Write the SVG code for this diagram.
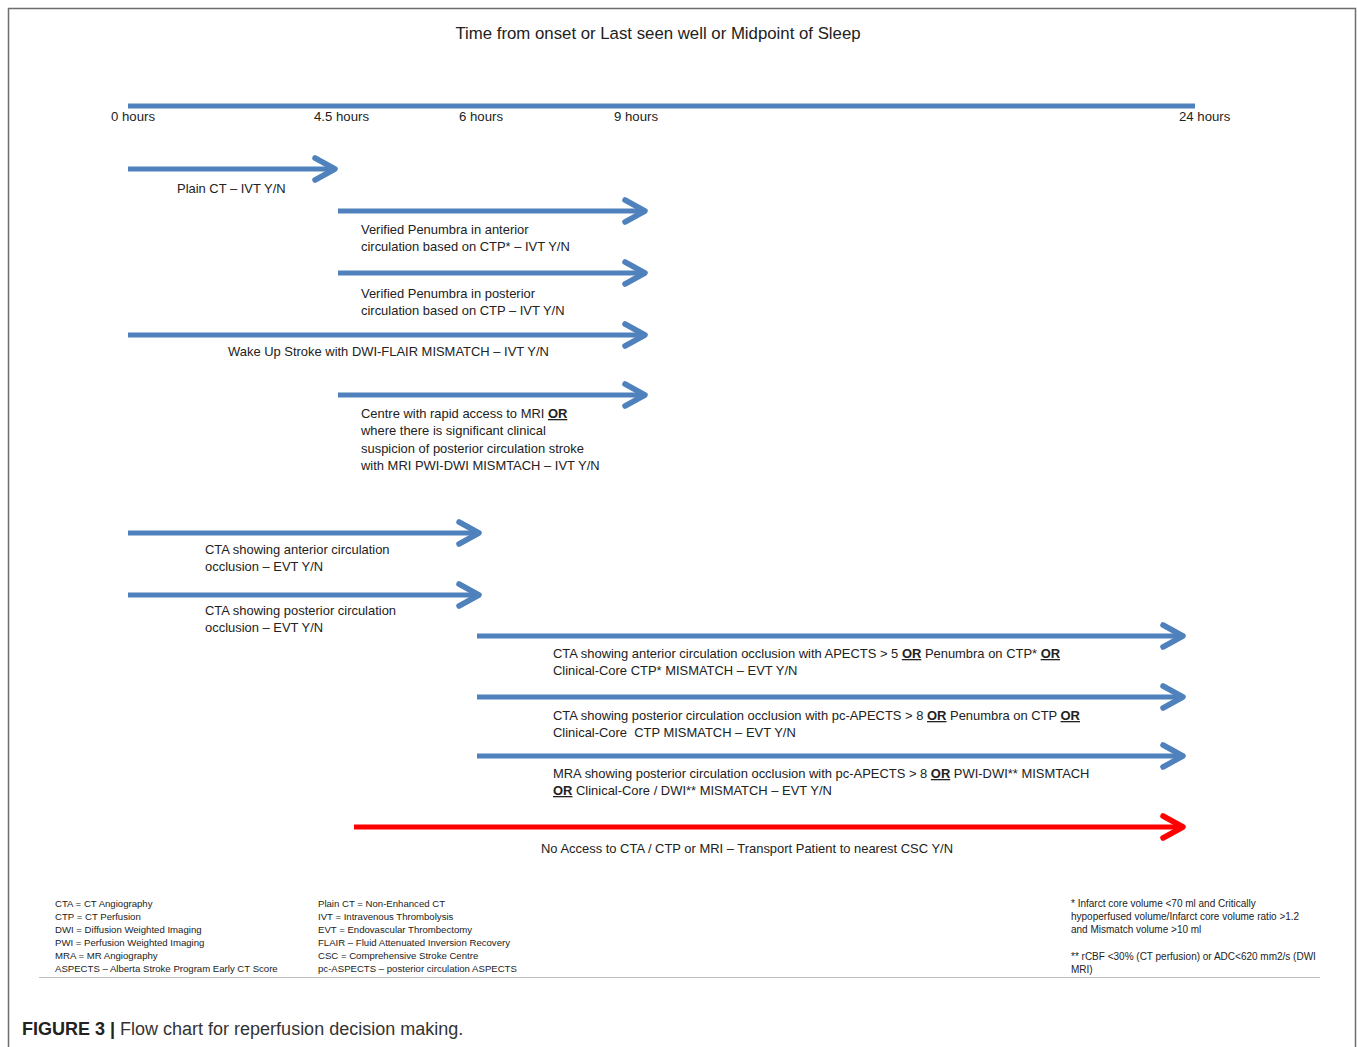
<svg xmlns="http://www.w3.org/2000/svg" width="1357" height="1047" viewBox="0 0 1357 1047">
<defs>
<style>
.t{font-family:"Liberation Sans",Arial,sans-serif;font-size:12.95px;fill:#222}
.h{font-family:"Liberation Sans",Arial,sans-serif;font-size:13.2px;fill:#222}
.f{font-family:"Liberation Sans",Arial,sans-serif;font-size:9.6px;fill:#222}
.fr{font-size:10px}
.b{font-weight:bold;text-decoration:underline}
.ln{stroke:#4F81BD;stroke-width:5;fill:none;stroke-linecap:butt}
.hd{stroke:#4F81BD;stroke-width:5.5;fill:none;stroke-linecap:round;stroke-linejoin:round}
.red{stroke:#FF0000}
</style>
</defs>
<rect x="0" y="0" width="1357" height="1047" fill="#fff"/>
<path d="M8.5,1047 V8.5 H1355.5 V1047" fill="none" stroke="#6e6e6e" stroke-width="1.5"/>
<text x="658" y="39" text-anchor="middle" font-family="Liberation Sans,Arial,sans-serif" font-size="16.8" fill="#222">Time from onset or Last seen well or Midpoint of Sleep</text>

<g id="timeline">
<line class="ln" x1="128" y1="106" x2="1195" y2="106"/>
<text class="h" x="111" y="121">0 hours</text>
<text class="h" x="314" y="121">4.5 hours</text>
<text class="h" x="459" y="121">6 hours</text>
<text class="h" x="614" y="121">9 hours</text>
<text class="h" x="1179" y="121">24 hours</text>
</g>

<g id="connectors">
<line class="ln" x1="128" y1="169" x2="334" y2="169"/><path class="hd" d="M315,158 L335,169 L315,180"/>
<line class="ln" x1="338" y1="211" x2="644" y2="211"/><path class="hd" d="M625,200 L645,211 L625,222"/>
<line class="ln" x1="338" y1="273" x2="644" y2="273"/><path class="hd" d="M625,262 L645,273 L625,284"/>
<line class="ln" x1="128" y1="335" x2="644" y2="335"/><path class="hd" d="M625,324 L645,335 L625,346"/>
<line class="ln" x1="338" y1="395" x2="644" y2="395"/><path class="hd" d="M625,384 L645,395 L625,406"/>
<line class="ln" x1="128" y1="533" x2="478" y2="533"/><path class="hd" d="M459,522 L479,533 L459,544"/>
<line class="ln" x1="128" y1="595" x2="478" y2="595"/><path class="hd" d="M459,584 L479,595 L459,606"/>
<line class="ln" x1="477" y1="636" x2="1182" y2="636"/><path class="hd" d="M1163,625 L1183,636 L1163,647"/>
<line class="ln" x1="477" y1="697" x2="1182" y2="697"/><path class="hd" d="M1163,686 L1183,697 L1163,708"/>
<line class="ln" x1="477" y1="756" x2="1182" y2="756"/><path class="hd" d="M1163,745 L1183,756 L1163,767"/>
<line class="ln red" x1="354" y1="827" x2="1182" y2="827"/><path class="hd red" d="M1163,816 L1183,827 L1163,838"/>
</g>

<g id="n1"><text class="t" x="177" y="193">Plain CT – IVT Y/N</text></g>
<g id="n2">
<text class="t" x="361" y="234">Verified Penumbra in anterior</text>
<text class="t" x="361" y="251">circulation based on CTP* – IVT Y/N</text>
</g>
<g id="n3">
<text class="t" x="361" y="298">Verified Penumbra in posterior</text>
<text class="t" x="361" y="315">circulation based on CTP – IVT Y/N</text>
</g>
<g id="n4"><text class="t" x="228" y="356">Wake Up Stroke with DWI-FLAIR MISMATCH – IVT Y/N</text></g>
<g id="n5">
<text class="t" x="361" y="418">Centre with rapid access to MRI <tspan class="b">OR</tspan></text>
<text class="t" x="361" y="435">where there is significant clinical</text>
<text class="t" x="361" y="453">suspicion of posterior circulation stroke</text>
<text class="t" x="361" y="470">with MRI PWI-DWI MISMTACH – IVT Y/N</text>
</g>
<g id="n6">
<text class="t" x="205" y="554">CTA showing anterior circulation</text>
<text class="t" x="205" y="571">occlusion – EVT Y/N</text>
</g>
<g id="n7">
<text class="t" x="205" y="615">CTA showing posterior circulation</text>
<text class="t" x="205" y="632">occlusion – EVT Y/N</text>
</g>
<g id="n8">
<text class="t" x="553" y="658">CTA showing anterior circulation occlusion with APECTS &gt; 5 <tspan class="b">OR</tspan> Penumbra on CTP* <tspan class="b">OR</tspan></text>
<text class="t" x="553" y="675">Clinical-Core CTP* MISMATCH – EVT Y/N</text>
</g>
<g id="n9">
<text class="t" x="553" y="720">CTA showing posterior circulation occlusion with pc-APECTS &gt; 8 <tspan class="b">OR</tspan> Penumbra on CTP <tspan class="b">OR</tspan></text>
<text class="t" x="553" y="737" xml:space="preserve">Clinical-Core  CTP MISMATCH – EVT Y/N</text>
</g>
<g id="n10">
<text class="t" x="553" y="778">MRA showing posterior circulation occlusion with pc-APECTS &gt; 8 <tspan class="b">OR</tspan> PWI-DWI** MISMTACH</text>
<text class="t" x="553" y="795"><tspan class="b">OR</tspan> Clinical-Core / DWI** MISMATCH – EVT Y/N</text>
</g>
<g id="n11"><text class="t" x="541" y="853">No Access to CTA / CTP or MRI – Transport Patient to nearest CSC Y/N</text></g>

<g id="legend">
<text class="f" x="55" y="907">CTA = CT Angiography</text>
<text class="f" x="55" y="920">CTP = CT Perfusion</text>
<text class="f" x="55" y="933">DWI = Diffusion Weighted Imaging</text>
<text class="f" x="55" y="946">PWI = Perfusion Weighted Imaging</text>
<text class="f" x="55" y="959">MRA = MR Angiography</text>
<text class="f" x="55" y="972">ASPECTS – Alberta Stroke Program Early CT Score</text>
<text class="f" x="318" y="907">Plain CT = Non-Enhanced CT</text>
<text class="f" x="318" y="920">IVT = Intravenous Thrombolysis</text>
<text class="f" x="318" y="933">EVT = Endovascular Thrombectomy</text>
<text class="f" x="318" y="946">FLAIR – Fluid Attenuated Inversion Recovery</text>
<text class="f" x="318" y="959">CSC = Comprehensive Stroke Centre</text>
<text class="f" x="318" y="972">pc-ASPECTS – posterior circulation ASPECTS</text>
<text class="f fr" x="1071" y="907">* Infarct core volume &lt;70 ml and Critically</text>
<text class="f fr" x="1071" y="920">hypoperfused volume/Infarct core volume ratio &gt;1.2</text>
<text class="f fr" x="1071" y="933">and Mismatch volume &gt;10 ml</text>
<text class="f fr" x="1071" y="960">** rCBF &lt;30% (CT perfusion) or ADC&lt;620 mm2/s (DWI</text>
<text class="f fr" x="1071" y="973">MRI)</text>
<line x1="39" y1="977.5" x2="1320" y2="977.5" stroke="#bdbdbd" stroke-width="1"/>
</g>

<text x="22" y="1035" font-family="Liberation Sans,Arial,sans-serif" font-size="18" fill="#333"><tspan font-weight="bold" fill="#222">FIGURE 3 |</tspan> Flow chart for reperfusion decision making.</text>
</svg>
